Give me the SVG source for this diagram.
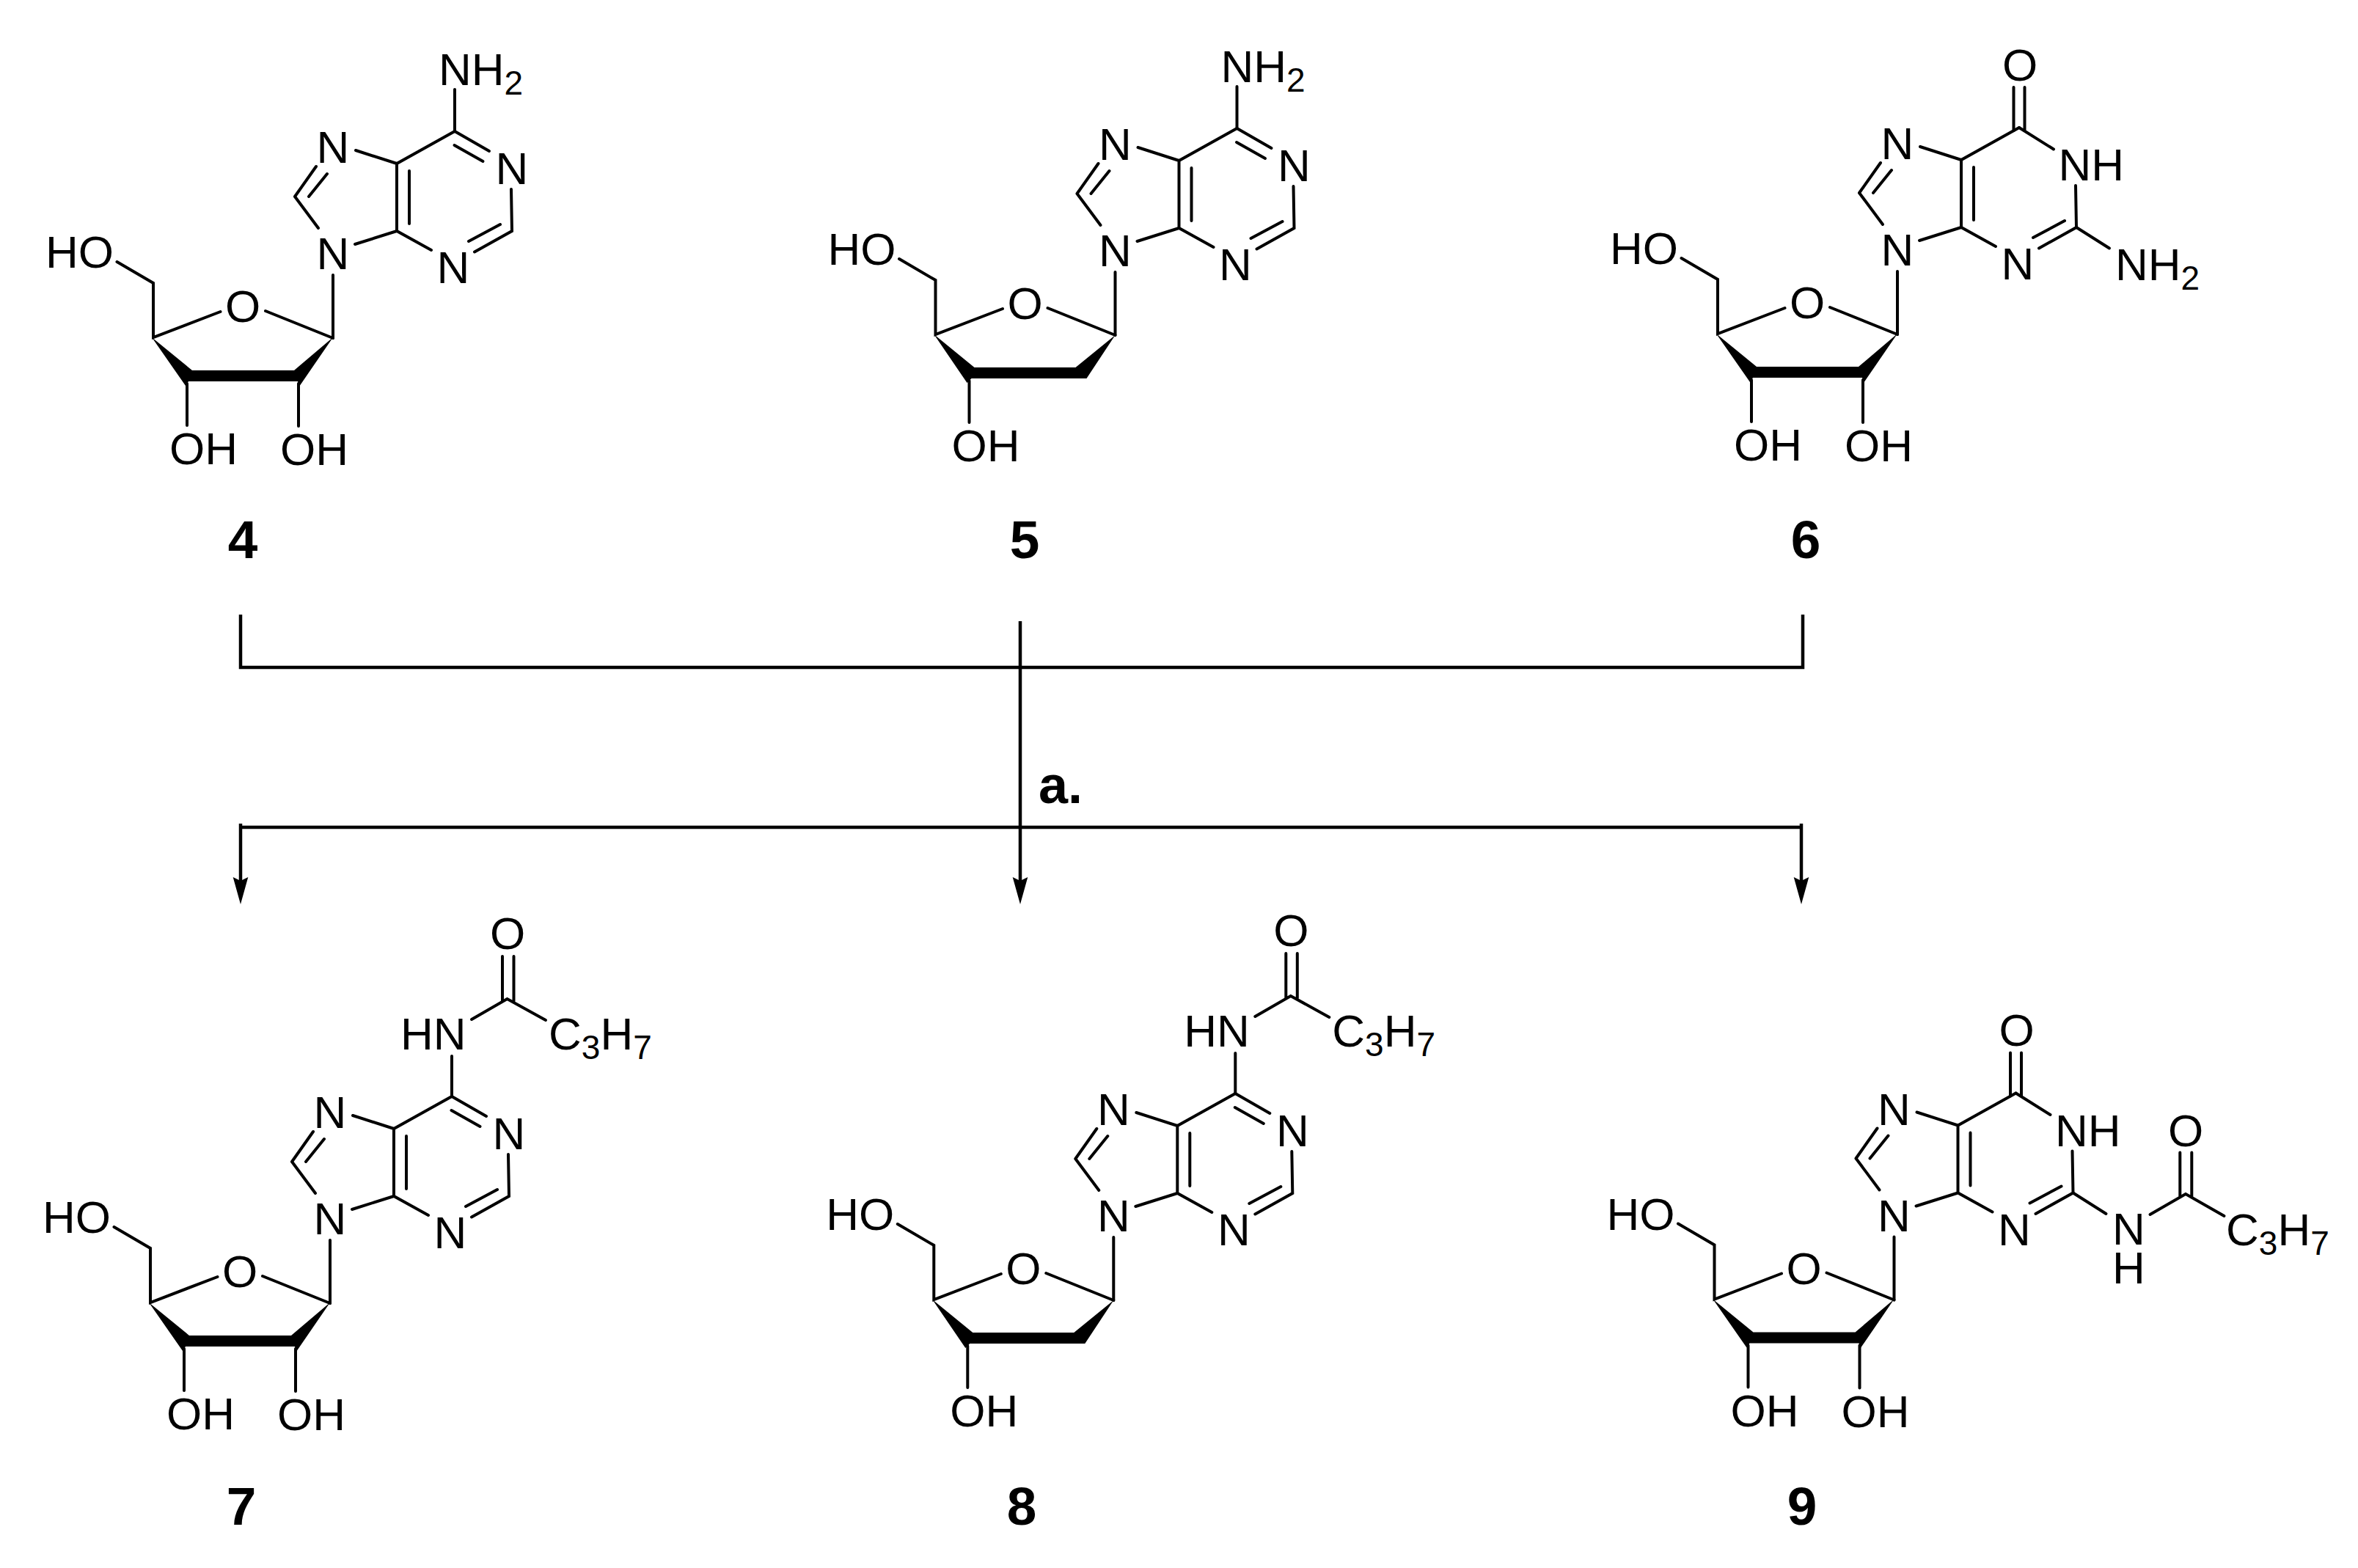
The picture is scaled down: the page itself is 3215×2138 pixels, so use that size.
<svg xmlns="http://www.w3.org/2000/svg" xmlns:xlink="http://www.w3.org/1999/xlink" width="3215" height="2138" viewBox="0 0 3215 2138">
<style>
.b{stroke:#000;stroke-width:4;fill:none;stroke-linecap:round;stroke-linejoin:miter}
.c{stroke:#000;stroke-width:4.5;fill:none;stroke-linecap:butt}
.t{font-family:"Liberation Sans",Arial,sans-serif;font-size:62px;fill:#000}
.m{text-anchor:middle}
.s{font-size:46px}
.l{font-family:"Liberation Sans",Arial,sans-serif;font-size:73px;font-weight:bold;fill:#000;text-anchor:middle}
</style>
<defs>
<marker id="arrow" markerUnits="userSpaceOnUse" markerWidth="40" markerHeight="24" refX="5" refY="11" orient="auto">
<path d="M37,11 L0,0.7 L5,11 L0,21.3 Z" fill="#000"/>
</marker>
<path id="core" class="b" d="M404,271 L433,230 M423,271 L448,240 M404,271 L436,314 M487,208 L543,226 L622,182 M543,226 L543,318 M560,236 L560,308 M486,336 L543,318 L590,344 M649,346.5 L700,318 L699,261 M641,332 L684,309 M456,378 L456,464"/>
<path id="aden" class="b" d="M622,182 L669,209 M621.5,201 L660.5,223"/>
<path id="guan" class="b" d="M622,182 L669,211.5 M614.5,127 L614.5,186 M629.5,127 L629.5,186"/>
<path id="ring" class="b" d="M456,464 L364,427 M302.5,428 L211,463 L211,389 L161.5,360 M257,526 L257,583"/>
<g id="ribo">
<polygon points="209,463 264,508 403,508 456,463 410,530 408,523 259,523 255,529" fill="#000"/>
<path class="b" d="M409,526 L409,584"/>
</g>
<polygon id="deoxy" points="209,463 264,508 402,508 456,464 417,523 260,523 254,529" fill="#000"/>
</defs>

<g id="connectors">
<path class="c" d="M328,838 V910 H2458 V838"/>
<path class="c" d="M328,1128 H2456"/>
<path class="c" d="M1391,847 V1201" marker-end="url(#arrow)"/>
<path class="c" d="M328,1123 V1201" marker-end="url(#arrow)"/>
<path class="c" d="M2456,1123 V1201" marker-end="url(#arrow)"/>
</g>

<g id="condition-a">
<text class="l" x="1446" y="1095" style="font-size:72px">a.</text>
</g>

<g id="compound-4">
<g transform="translate(-2,-3)">
<use xlink:href="#core" href="#core"/><use xlink:href="#aden" href="#aden"/><use xlink:href="#ring" href="#ring"/><use xlink:href="#ribo" href="#ribo"/>
<path class="b" d="M622,182 L622,125"/>
<text class="t m" x="456" y="225">N</text><text class="t m" x="456" y="370">N</text><text class="t m" x="700" y="254">N</text><text class="t m" x="620" y="389">N</text>
<text class="t" x="600" y="119">NH<tspan class="s" dy="13">2</tspan></text>
<text class="t m" x="333" y="442">O</text>
<text class="t" x="64" y="368">HO</text><text class="t" x="233" y="636">OH</text><text class="t" x="384" y="637">OH</text>
</g>
<text class="l" x="331" y="761">4</text>
</g>

<g id="compound-5">
<g transform="translate(1064.5,-7)">
<use xlink:href="#core" href="#core"/><use xlink:href="#aden" href="#aden"/><use xlink:href="#ring" href="#ring"/><use xlink:href="#deoxy" href="#deoxy"/>
<path class="b" d="M622,182 L622,125"/>
<text class="t m" x="456" y="225">N</text><text class="t m" x="456" y="370">N</text><text class="t m" x="700" y="254">N</text><text class="t m" x="620" y="389">N</text>
<text class="t" x="600" y="119">NH<tspan class="s" dy="13">2</tspan></text>
<text class="t m" x="333" y="442">O</text>
<text class="t" x="64" y="368">HO</text><text class="t" x="233" y="636">OH</text>
</g>
<text class="l" x="1397" y="761">5</text>
</g>

<g id="compound-6">
<g transform="translate(2131,-8)">
<use xlink:href="#core" href="#core"/><use xlink:href="#guan" href="#guan"/><use xlink:href="#ring" href="#ring"/><use xlink:href="#ribo" href="#ribo"/>
<path class="b" d="M700,318 L745,346.5"/>
<text class="t m" x="456" y="225">N</text><text class="t m" x="456" y="370">N</text><text class="t" x="675.5" y="254">NH</text><text class="t m" x="620" y="389">N</text>
<text class="t m" x="623" y="118">O</text>
<text class="t" x="753" y="390">NH<tspan class="s" dy="13">2</tspan></text>
<text class="t m" x="333" y="442">O</text>
<text class="t" x="64" y="368">HO</text><text class="t" x="233" y="636">OH</text><text class="t" x="384" y="637">OH</text>
</g>
<text class="l" x="2462" y="761">6</text>
</g>

<g id="compound-7">
<g transform="translate(-6,1313)">
<use xlink:href="#core" href="#core"/><use xlink:href="#aden" href="#aden"/><use xlink:href="#ring" href="#ring"/><use xlink:href="#ribo" href="#ribo"/>
<path class="b" d="M622,182 L622,127 M649,77 L697.5,49 L750,78 M691,-9 L691,52 M706.5,-9 L706.5,52"/>
<text class="t m" x="456" y="225">N</text><text class="t m" x="456" y="370">N</text><text class="t m" x="700" y="254">N</text><text class="t m" x="620" y="389">N</text>
<text class="t" x="552" y="117.5">HN</text>
<text class="t m" x="698" y="-19.5">O</text>
<text class="t" x="754" y="117.5">C<tspan class="s" dy="13">3</tspan><tspan dy="-13">H</tspan><tspan class="s" dy="13">7</tspan></text>
<text class="t m" x="333" y="442">O</text>
<text class="t" x="64" y="368">HO</text><text class="t" x="233" y="636">OH</text><text class="t" x="384" y="637">OH</text>
</g>
<text class="l" x="329" y="2079">7</text>
</g>

<g id="compound-8">
<g transform="translate(1062.3,1309)">
<use xlink:href="#core" href="#core"/><use xlink:href="#aden" href="#aden"/><use xlink:href="#ring" href="#ring"/><use xlink:href="#deoxy" href="#deoxy"/>
<path class="b" d="M622,182 L622,127 M649,77 L697.5,49 L750,78 M691,-9 L691,52 M706.5,-9 L706.5,52"/>
<text class="t m" x="456" y="225">N</text><text class="t m" x="456" y="370">N</text><text class="t m" x="700" y="254">N</text><text class="t m" x="620" y="389">N</text>
<text class="t" x="552" y="117.5">HN</text>
<text class="t m" x="698" y="-19.5">O</text>
<text class="t" x="754" y="117.5">C<tspan class="s" dy="13">3</tspan><tspan dy="-13">H</tspan><tspan class="s" dy="13">7</tspan></text>
<text class="t m" x="333" y="442">O</text>
<text class="t" x="64" y="368">HO</text><text class="t" x="233" y="636">OH</text>
</g>
<text class="l" x="1393" y="2079">8</text>
</g>

<g id="compound-9">
<g transform="translate(2126.5,1308.5)">
<use xlink:href="#core" href="#core"/><use xlink:href="#guan" href="#guan"/><use xlink:href="#ring" href="#ring"/><use xlink:href="#ribo" href="#ribo"/>
<path class="b" d="M700,318 L745,346.5 M805,347.5 L853.5,319.5 L906,349.5 M845.8,263 L845.8,324 M861.8,263 L861.8,324"/>
<text class="t m" x="456" y="225">N</text><text class="t m" x="456" y="370">N</text><text class="t" x="675.5" y="254">NH</text><text class="t m" x="620" y="389">N</text>
<text class="t m" x="623" y="117">O</text>
<text class="t m" x="776" y="388">N</text><text class="t m" x="776" y="441">H</text>
<text class="t m" x="853.5" y="254">O</text>
<text class="t" x="908.5" y="389">C<tspan class="s" dy="13">3</tspan><tspan dy="-13">H</tspan><tspan class="s" dy="13">7</tspan></text>
<text class="t m" x="333" y="442">O</text>
<text class="t" x="64" y="368">HO</text><text class="t" x="233" y="636">OH</text><text class="t" x="384" y="637">OH</text>
</g>
<text class="l" x="2457" y="2079">9</text>
</g>
</svg>
